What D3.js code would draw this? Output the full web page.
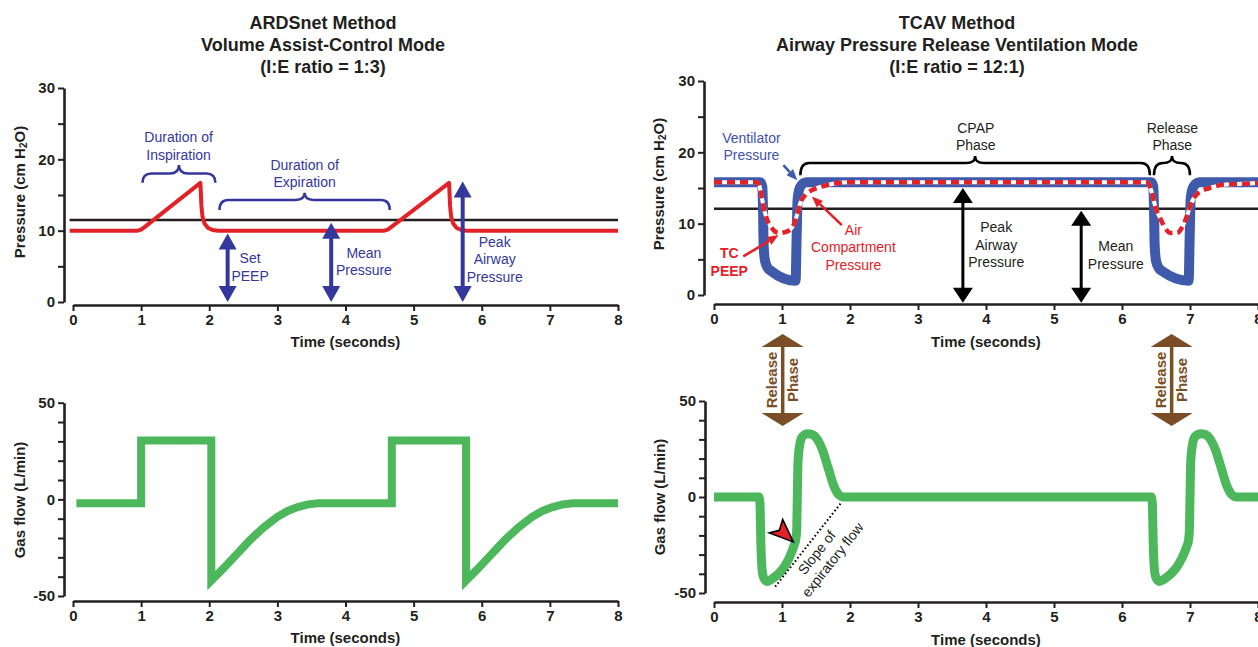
<!DOCTYPE html>
<html>
<head>
<meta charset="utf-8">
<script src="https://cdn.jsdelivr.net/npm/d3@7"></script>
<style>
  body { margin: 0; background: #fff; }
  svg { display: block; font-family: "Liberation Sans", Arial, Helvetica, sans-serif; }
</style>
</head>
<body>
<svg id="chart" width="1258" height="647"></svg>
<script>
// ---- values: [time (s), value] ----
const timeTicks = [0, 1, 2, 3, 4, 5, 6, 7, 8];
const pressureTicks = [0, 5, 10, 15, 20, 25, 30];
const pressureTickLabels = [0, 10, 20, 30];
const flowTicks = [-50, -40, -30, -20, -10, 0, 10, 20, 30, 40, 50];
const flowTickLabels = [-50, 0, 50];

// ARDSnet, volume assist-control
const ardsPressure = [[-0.05, 10], [0.95, 10], [1.0, 10.15], [1.05, 10.5], [1.87, 16.7], [1.885, 13.5], [1.9, 12],
  [1.93, 11], [1.98, 10.4], [2.05, 10.1], [2.13, 10], [4.57, 10], [4.62, 10.15], [4.67, 10.5], [5.52, 16.7],
  [5.535, 13.5], [5.55, 12], [5.58, 11], [5.63, 10.4], [5.7, 10.1], [5.78, 10], [8, 10]];
const ardsMeanPressure = [[-0.05, 11.5], [8, 11.5]];
const ardsFlow = [[0.05, -2], [1.0, -2], [1.0, 30.5], [2.03, 30.5], [2.03, -42], [2.2, -36], [2.4, -28.5], [2.6, -21],
  [2.8, -14.5], [3.0, -9], [3.15, -6], [3.3, -4], [3.45, -2.6], [3.6, -2], [4.68, -2], [4.68, 30.5], [5.77, 30.5],
  [5.77, -42], [5.94, -36], [6.14, -28.5], [6.34, -21], [6.54, -14.5], [6.74, -9], [6.89, -6], [7.04, -4],
  [7.19, -2.6], [7.34, -2], [8.0, -2]];

// TCAV, airway pressure release ventilation
const tcavVentilatorPressure = [[0, 15.8], [0.68, 15.8], [0.71, 15.2], [0.72, 12.5], [0.73, 7], [0.75, 4.8],
  [0.79, 3.8], [0.85, 3.3], [1.2, 2.0], [1.215, 8], [1.23, 13.5], [1.27, 15.2], [1.36, 15.8], [6.43, 15.8],
  [6.46, 15.2], [6.47, 12.5], [6.48, 7], [6.5, 4.8], [6.54, 3.8], [6.6, 3.3], [6.98, 2.0], [6.995, 8],
  [7.01, 13.5], [7.05, 15.2], [7.14, 15.8], [8, 15.8]];
const tcavCompartmentPressure = [[0, 15.8], [0.62, 15.8], [0.66, 15.5], [0.7, 13.8], [0.75, 11.5], [0.85, 9.4],
  [0.95, 8.7], [1.07, 8.9], [1.17, 9.8], [1.22, 11.2], [1.27, 12.9], [1.34, 14.0], [1.44, 14.7], [1.58, 15.2],
  [1.75, 15.6], [2.0, 15.8], [6.36, 15.8], [6.39, 15.6], [6.44, 14.3], [6.49, 12.4], [6.56, 10.8], [6.64, 9.3],
  [6.71, 8.7], [6.81, 8.7], [6.9, 9.8], [6.96, 11.2], [7.02, 12.9], [7.12, 14.3], [7.29, 15.0], [7.53, 15.5],
  [7.78, 15.6], [8.0, 15.7]];
const tcavMeanPressure = [[0, 12.1], [8, 12.1]];
const tcavFlow = [[0, 0], [0.66, 0], [0.675, -3], [0.69, -25], [0.705, -37], [0.73, -42], [0.78, -44], [0.84, -43],
  [1.19, -24], [1.215, -18], [1.225, 0], [1.235, 18], [1.26, 27], [1.3, 31.5], [1.38, 33], [1.45, 32.5],
  [1.52, 30], [1.6, 24], [1.68, 15], [1.76, 6], [1.84, 1], [1.9, 0],
  [6.43, 0], [6.445, -3], [6.46, -25], [6.475, -37], [6.5, -42], [6.55, -44], [6.61, -43], [6.97, -24],
  [6.99, -18], [7.0, 0], [7.01, 18], [7.035, 27], [7.075, 31.5], [7.16, 33], [7.23, 32.5], [7.3, 30],
  [7.38, 24], [7.46, 15], [7.54, 6], [7.62, 1], [7.68, 0], [8, 0]];
const tcavSlopeLine = [[0.9, -46.7], [1.88, -2.6]];

// annotations: arrows [time, top, bottom]; labels [time, value of first line, lines]; braces [t1, t2, end, bar, tip]
const ardsArrows = [[2.27, 9.6, 0], [3.79, 11.1, 0], [5.72, 16.9, 0]];
const ardsLabels = [
  [1.55, 23.1, ["Duration of", "Inspiration"]],
  [3.4, 19.2, ["Duration of", "Expiration"]],
  [2.6, 6.1, ["Set", "PEEP"]],
  [4.27, 6.9, ["Mean", "Pressure"]],
  [6.19, 8.45, ["Peak", "Airway", "Pressure"]]
];
const ardsBraces = [[1.02, 2.09, 16.7, 18.0, 19.2], [2.15, 4.65, 12.9, 14.3, 15.3]];

const tcavArrows = [[3.66, 15.0, -1.1], [5.4, 11.8, -1.1]];
const tcavLabels = [
  [3.85, 23.4, ["CPAP", "Phase"]],
  [6.74, 23.4, ["Release", "Phase"]],
  [4.15, 9.45, ["Peak", "Airway", "Pressure"]],
  [5.91, 6.8, ["Mean", "Pressure"]]
];
const tcavBraces = [[1.27, 6.41, 16.8, 18.5, 19.5], [6.47, 7.0, 16.8, 18.5, 19.5]];
const tcavCallouts = [
  { lines: ["Ventilator", "Pressure"], at: [0.55, 22.0], from: [1.02, 18.2], to: [1.225, 16.1], kind: "vent" },
  { lines: ["TC", "PEEP"], at: [0.225, 5.85], from: [0.43, 5.4], to: [0.95, 8.4], kind: "tc" },
  { lines: ["Air", "Compartment", "Pressure"], at: [2.05, 9.1], from: [1.88, 9.8], to: [1.44, 13.8], kind: "air" }
];
const releaseTimes = [1.01, 6.73];
const flowPointer = [1.166, -23.4];

// ---- drawing ----
const ink = "#231f20";
const indigo = "#34379b";
const red = "#e32227";
const ventBlue = "#3f5aaa";
const green = "#4cb85b";
const brown = "#7b4f26";

const svg = d3.select("#chart");

const ardsP = { x: d3.scaleLinear([0, 8], [73, 618]), y: d3.scaleLinear([0, 30], [302, 88]), xAxisY: 305, yAxisX: 64 };
const ardsF = { x: d3.scaleLinear([0, 8], [73, 618]), y: d3.scaleLinear([-50, 50], [596, 402.7]), xAxisY: 601, yAxisX: 64 };
const tcavP = { x: d3.scaleLinear([0, 8], [714, 1258]), y: d3.scaleLinear([0, 30], [295, 81]), xAxisY: 304, yAxisX: 704 };
const tcavF = { x: d3.scaleLinear([0, 8], [714, 1258]), y: d3.scaleLinear([-50, 50], [593, 401]), xAxisY: 602, yAxisX: 705 };

function stack(x, y, rows, { size = 14, weight = "normal", color = ink, lh = 17.5 } = {}) {
  const t = svg.append("text").attr("x", x).attr("y", y).attr("text-anchor", "middle")
    .attr("font-size", size).attr("font-weight", weight).attr("fill", color);
  rows.forEach((r, i) => t.append("tspan").attr("x", x).attr("dy", i ? lh : "0.35em").text(r));
}

function axes(p, yTicks, yLabels, yTitle, yTitleX, yTitleY, xTitleY) {
  const gy = svg.append("g").attr("transform", `translate(${p.yAxisX},0)`)
    .call(d3.axisLeft(p.y).tickValues(yTicks).tickSize(6).tickSizeOuter(0).tickPadding(3)
      .tickFormat(d => yLabels.includes(d) ? d : ""));
  const gx = svg.append("g").attr("transform", `translate(0,${p.xAxisY})`)
    .call(d3.axisBottom(p.x).tickValues(timeTicks).tickSize(6).tickSizeOuter(0).tickPadding(3));
  for (const g of [gx, gy]) {
    g.attr("font-family", null).attr("font-size", null);
    g.select(".domain").attr("stroke", ink).attr("stroke-width", 2.6);
    g.selectAll(".tick line").attr("stroke", ink).attr("stroke-width", 2);
    g.selectAll(".tick text").attr("fill", ink).attr("font-size", 15).attr("font-weight", "bold");
  }
  const t = svg.append("text").attr("transform", `translate(${yTitleX},${yTitleY}) rotate(-90)`)
    .attr("text-anchor", "middle").attr("dy", "0.35em")
    .attr("font-size", 15).attr("font-weight", "bold").attr("fill", ink);
  t.append("tspan").text(yTitle[0]);
  if (yTitle.length > 1) {
    t.append("tspan").attr("font-size", 10).attr("dy", 2).text(yTitle[1]);
    t.append("tspan").attr("dy", -2).text(yTitle[2]);
  }
  svg.append("text").attr("x", p.x(4)).attr("y", xTitleY).attr("dy", "0.35em").attr("text-anchor", "middle")
    .attr("font-size", 15).attr("font-weight", "bold").attr("fill", ink).text("Time (seconds)");
}

function trace(p, data, curve) {
  return d3.line().x(d => p.x(d[0])).y(d => p.y(d[1])).curve(curve)(data);
}

function doubleArrow(x, yBottom, yTop, color, hw, hh, sw) {
  svg.append("line").attr("x1", x).attr("x2", x).attr("y1", yBottom - hh + 1).attr("y2", yTop + hh - 1)
    .attr("stroke", color).attr("stroke-width", sw);
  svg.append("path").attr("fill", color)
    .attr("d", `M${x},${yTop}L${x - hw / 2},${yTop + hh}L${x + hw / 2},${yTop + hh}Z` +
      `M${x},${yBottom}L${x - hw / 2},${yBottom - hh}L${x + hw / 2},${yBottom - hh}Z`);
}

function pointer(x1, y1, x2, y2, color, len = 11, wid = 9, sw = 2.6) {
  const a = Math.atan2(y2 - y1, x2 - x1);
  const bx = x2 - len * Math.cos(a), by = y2 - len * Math.sin(a);
  svg.append("line").attr("x1", x1).attr("y1", y1).attr("x2", bx).attr("y2", by)
    .attr("stroke", color).attr("stroke-width", sw);
  const ox = wid / 2 * Math.sin(a), oy = wid / 2 * Math.cos(a);
  svg.append("path").attr("fill", color)
    .attr("d", `M${x2},${y2}L${bx + ox},${by - oy}L${bx - ox},${by + oy}Z`);
}

function brace(p, [t1, t2, vEnd, vBar, vTip], color) {
  const x1 = p.x(t1), x2 = p.x(t2), xm = (x1 + x2) / 2;
  const yE = p.y(vEnd), yB = p.y(vBar), yT = p.y(vTip);
  const r = Math.min(9, (x2 - x1) / 4);
  svg.append("path").attr("fill", "none").attr("stroke", color).attr("stroke-width", 2.5)
    .attr("d", `M${x1},${yE}Q${x1},${yB} ${x1 + r},${yB}L${xm - r},${yB}Q${xm},${yB} ${xm},${yT}` +
      `Q${xm},${yB} ${xm + r},${yB}L${x2 - r},${yB}Q${x2},${yB} ${x2},${yE}`);
}

// titles
stack(323, 22.7, ["ARDSnet Method", "Volume Assist-Control Mode", "(I:E ratio = 1:3)"], { size: 18, weight: "bold", lh: 22 });
stack(957, 22.7, ["TCAV Method", "Airway Pressure Release Ventilation Mode", "(I:E ratio = 12:1)"], { size: 18, weight: "bold", lh: 22 });

// axes
axes(ardsP, pressureTicks, pressureTickLabels, ["Pressure (cm H", "2", "O)"], 20, 192, 342);
axes(tcavP, pressureTicks, pressureTickLabels, ["Pressure (cm H", "2", "O)"], 659, 184, 342);
axes(ardsF, flowTicks, flowTickLabels, ["Gas flow (L/min)"], 20, 500, 638);
axes(tcavF, flowTicks, flowTickLabels, ["Gas flow (L/min)"], 660, 497, 640);

// ARDSnet pressure
svg.append("path").attr("d", trace(ardsP, ardsMeanPressure, d3.curveLinear))
  .attr("fill", "none").attr("stroke", ink).attr("stroke-width", 2.5);
svg.append("path").attr("d", trace(ardsP, ardsPressure, d3.curveLinear))
  .attr("fill", "none").attr("stroke", red).attr("stroke-width", 4).attr("stroke-linejoin", "round");
ardsArrows.forEach(([t, top, bottom]) => doubleArrow(ardsP.x(t), ardsP.y(bottom), ardsP.y(top), indigo, 18, 16, 4));
ardsBraces.forEach(b => brace(ardsP, b, indigo));
ardsLabels.forEach(([t, v, rows]) => stack(ardsP.x(t), ardsP.y(v), rows, { color: indigo }));

// ARDSnet flow
svg.append("path").attr("d", trace(ardsF, ardsFlow, d3.curveLinear))
  .attr("fill", "none").attr("stroke", green).attr("stroke-width", 8).attr("stroke-linejoin", "miter");

// TCAV pressure
svg.append("path").attr("d", trace(tcavP, tcavMeanPressure, d3.curveLinear))
  .attr("fill", "none").attr("stroke", ink).attr("stroke-width", 2.5);
svg.append("path").attr("d", trace(tcavP, tcavVentilatorPressure, d3.curveMonotoneX))
  .attr("fill", "none").attr("stroke", ventBlue).attr("stroke-width", 10).attr("stroke-linejoin", "round");
svg.append("path").attr("d", trace(tcavP, tcavCompartmentPressure, d3.curveMonotoneX))
  .attr("fill", "none").attr("stroke", "#fff").attr("stroke-width", 4);
svg.append("path").attr("d", trace(tcavP, tcavCompartmentPressure, d3.curveMonotoneX))
  .attr("fill", "none").attr("stroke", red).attr("stroke-width", 4.5).attr("stroke-dasharray", "8,5");
tcavArrows.forEach(([t, top, bottom]) => doubleArrow(tcavP.x(t), tcavP.y(bottom), tcavP.y(top), "#000", 20, 15, 3));
tcavBraces.forEach(b => brace(tcavP, b, "#000"));
tcavLabels.forEach(([t, v, rows]) => stack(tcavP.x(t), tcavP.y(v), rows));
tcavCallouts.forEach(c => {
  const color = c.kind === "vent" ? "#4051aa" : red;
  stack(tcavP.x(c.at[0]), tcavP.y(c.at[1]), c.lines, { color, weight: c.kind === "tc" ? "bold" : "normal" });
  pointer(tcavP.x(c.from[0]), tcavP.y(c.from[1]), tcavP.x(c.to[0]), tcavP.y(c.to[1]), c.kind === "vent" ? ventBlue : red);
});

// release phase markers between the TCAV panels
releaseTimes.forEach(t => {
  const x = tcavF.x(t);
  doubleArrow(x, 426, 334, brown, 42, 13, 3.5);
  [["Release", -11], ["Phase", 10.5]].forEach(([s, dx]) => {
    svg.append("text").attr("transform", `translate(${x + dx},380) rotate(-90)`)
      .attr("text-anchor", "middle").attr("dy", "0.35em")
      .attr("font-size", 15).attr("font-weight", "bold").attr("fill", brown).text(s);
  });
});

// TCAV flow
svg.append("path").attr("d", trace(tcavF, tcavFlow, d3.curveMonotoneX))
  .attr("fill", "none").attr("stroke", green).attr("stroke-width", 9).attr("stroke-linejoin", "round");
svg.append("path").attr("d", trace(tcavF, tcavSlopeLine, d3.curveLinear))
  .attr("fill", "none").attr("stroke", "#000").attr("stroke-width", 2).attr("stroke-dasharray", "1.6,2.4");

const [sx0, sy0] = [tcavF.x(tcavSlopeLine[0][0]), tcavF.y(tcavSlopeLine[0][1])];
const [sx1, sy1] = [tcavF.x(tcavSlopeLine[1][0]), tcavF.y(tcavSlopeLine[1][1])];
const slopeAngle = Math.atan2(sy1 - sy0, sx1 - sx0) * 180 / Math.PI;
const slopeText = svg.append("text")
  .attr("transform", `translate(${tcavF.x(1.51)},${tcavF.y(-28.9)}) rotate(${slopeAngle})`)
  .attr("text-anchor", "middle").attr("font-size", 14).attr("fill", ink);
slopeText.append("tspan").attr("x", 0).attr("dy", "0.35em").text("Slope of");
slopeText.append("tspan").attr("x", 4).attr("dy", 17).text("expiratory flow");

const [px, py] = [tcavF.x(flowPointer[0]), tcavF.y(flowPointer[1])];
svg.append("path").attr("d", `M${px},${py}l-10.6,-22.4l-3.4,10.7l-10,2.7Z`)
  .attr("fill", red).attr("stroke", "#000").attr("stroke-width", 1.6).attr("stroke-linejoin", "miter");
</script>
</body>
</html>
